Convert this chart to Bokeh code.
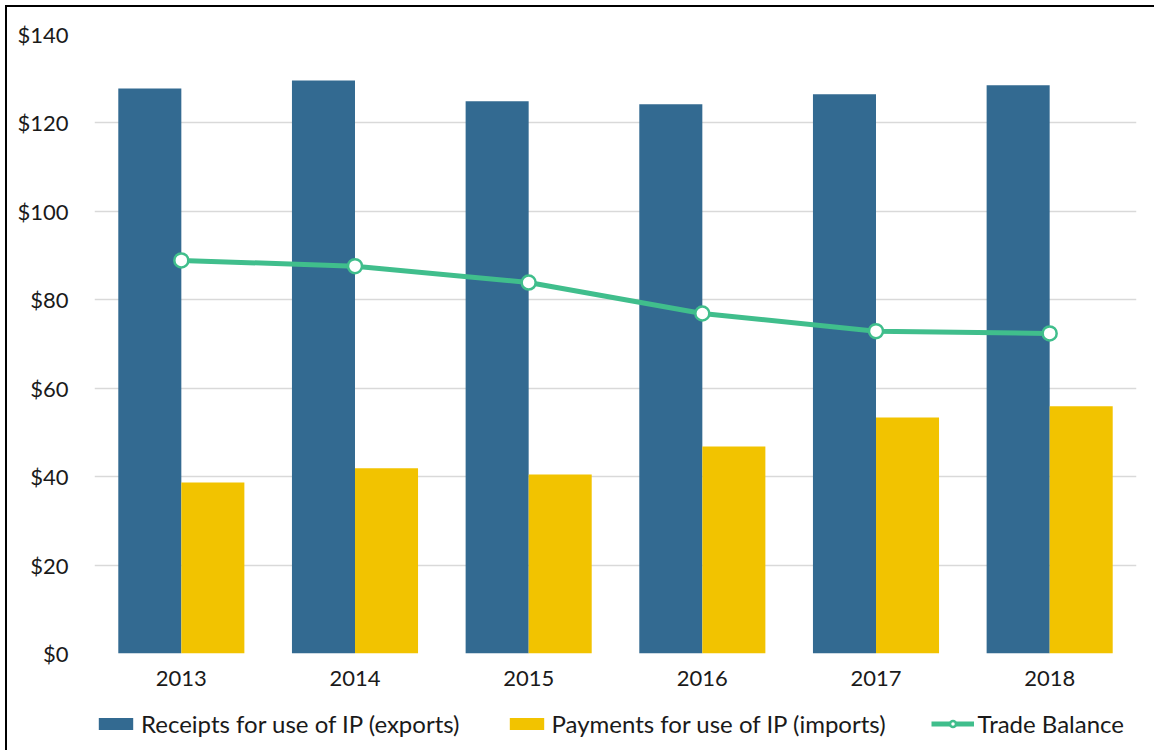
from bokeh.plotting import figure
from bokeh.layouts import column
from bokeh.models import (FactorRange, Range1d, NumeralTickFormatter, Legend, LegendItem,
                          ColumnDataSource)
from bokeh.transform import dodge
from bokeh.embed import file_html
from bokeh.resources import INLINE

years = ["2013", "2014", "2015", "2016", "2017", "2018"]
receipts = [127.8, 129.6, 124.9, 124.2, 126.5, 128.5]
payments = [38.7, 41.9, 40.5, 46.8, 53.4, 55.9]
balance = [88.9, 87.6, 83.9, 76.9, 72.9, 72.4]
y_ticks = [0, 20, 40, 60, 80, 100, 120, 140]
labels = ["Receipts for use of IP (exports)", "Payments for use of IP (imports)", "Trade Balance"]

src = ColumnDataSource(dict(year=years, receipts=receipts, payments=payments, balance=balance))

BLUE = "#336A91"
YELLOW = "#F2C300"
GREEN = "#40BE8C"
FONT = "Lato"
TXT = "#1a1a1a"

main = figure(x_range=FactorRange(factors=years, range_padding=0), y_range=(0, 140),
              width=1147, height=690, output_backend="svg", toolbar_location=None,
              min_border_left=87, min_border_right=18, min_border_top=27, min_border_bottom=44)
main.outline_line_color = None

bw = 0.363
main.vbar(x=dodge("year", -bw / 2, range=main.x_range), top="receipts", width=bw, source=src,
          fill_color=BLUE, line_color=None)
main.vbar(x=dodge("year", bw / 2, range=main.x_range), top="payments", width=bw, source=src,
          fill_color=YELLOW, line_color=None)
main.line(x="year", y="balance", source=src, line_color=GREEN, line_width=5)
main.scatter(x="year", y="balance", source=src, size=14, fill_color="white",
             line_color=GREEN, line_width=2.5)

main.yaxis.ticker = y_ticks
main.yaxis.formatter = NumeralTickFormatter(format="$0")
for ax in (main.xaxis[0], main.yaxis[0]):
    ax.axis_line_color = None
    ax.major_tick_line_color = None
    ax.minor_tick_line_color = None
    ax.major_label_text_font = FONT
    ax.major_label_text_font_size = "22px"
    ax.major_label_text_color = TXT
main.yaxis.major_label_standoff = 20
main.xaxis.major_label_standoff = 11

main.xgrid.grid_line_color = None
main.ygrid.grid_line_color = "#D9D9D9"
main.ygrid.grid_line_width = 1.5

# legend strip: swatch renderers sit outside the visible range, only the legend shows
leg = figure(width=1147, height=53, x_range=Range1d(0, 1), y_range=Range1d(0, 1),
             output_backend="svg", toolbar_location=None,
             x_axis_location=None, y_axis_location=None,
             min_border_left=0, min_border_right=0, min_border_top=0, min_border_bottom=0)
leg.outline_line_color = None
leg.xgrid.grid_line_color = None
leg.ygrid.grid_line_color = None
g1 = leg.vbar(x=[-5], bottom=[-5], top=[-4], width=0.1, fill_color=BLUE, line_color=None)
g2 = leg.vbar(x=[-5], bottom=[-5], top=[-4], width=0.1, fill_color=YELLOW, line_color=None)
g3 = leg.line(x=[-5, -4], y=[-5, -5], line_color=GREEN, line_width=5)
g4 = leg.scatter(x=[-5], y=[-5], size=14, fill_color="white", line_color=GREEN, line_width=2.5)

legend = Legend(items=[
    LegendItem(label=labels[0], renderers=[g1]),
    LegendItem(label=labels[1], renderers=[g2]),
    LegendItem(label=labels[2], renderers=[g3, g4]),
], orientation="horizontal", location=(0, 12))
legend.border_line_color = None
legend.background_fill_alpha = 0
legend.label_text_font = FONT
legend.label_text_font_size = "24px"
legend.label_text_color = TXT
legend.glyph_width = 43
legend.glyph_height = 15
legend.label_standoff = 4
legend.spacing = 45
legend.padding = 0
legend.margin = 0
leg.add_layout(legend, "center")

p = column(main, leg, spacing=0)
p.styles = {"margin-left": "7px", "margin-top": "7px", "outline": "2px solid black"}

open("out.html", "w").write(file_html(p, INLINE))
